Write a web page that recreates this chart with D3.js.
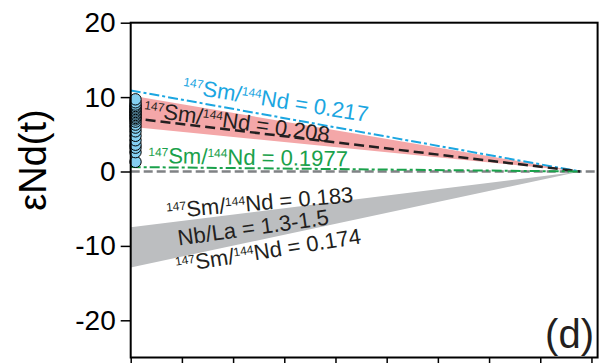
<!DOCTYPE html>
<html>
<head>
<meta charset="utf-8">
<script src="https://cdn.jsdelivr.net/npm/d3@7"></script>
<style>
  body { margin: 0; background: #fff; }
  svg { display: block; font-family: "Liberation Sans", Arial, sans-serif; }
</style>
</head>
<body>
<svg id="chart" width="603" height="363"></svg>
<script>
// x = age (Ga), y = epsilon Nd(t)
const xTicks = [0, 0.5, 1, 1.5, 2, 2.5, 3, 3.5, 4, 4.5]
const yTicks = [-20, -10, 0, 10, 20]
const convergeAge = 4.39

// model evolution lines: start value at t = 0, all meet eps = 0 at convergeAge
const lineRatios = ['0.217', '0.208', '0.1977']
const lineStartEps = [10.9, 7.2, 0.6]
const lineColors = ['#1ba6e1', '#231f20', '#1aa14b']
const lineDash = ['10,3,3,3', '10,5', '10,3,3,3']

// shaded ranges at t = 0 (top, bottom)
const redBandEps = [10.2, 6.0]
const grayBandEps = [-7.5, -12.9]

// samples
const sampleAge = 0.047
const sampleEps = [9.7, 9.3, 9.0, 8.8, 8.6, 8.4, 8.2, 8.0, 7.8, 7.6, 7.4, 7.2, 7.0, 6.7, 6.3, 5.9, 5.4, 4.8, 4.2, 3.6, 3.2, 2.6, 1.3]

// annotation labels: [age, eps, angle, sup1, main1, sup2, main2, color]
const labels = [
  [0.50, 10.6, 9, '147', 'Sm/', '144', 'Nd = 0.217', '#1ba6e1'],
  [0.12, 7.46, 8, '147', 'Sm/', '144', 'Nd = 0.208', '#231f20'],
  [0.17, 1.14, 1, '147', 'Sm/', '144', 'Nd = 0.1977', '#1aa14b'],
  [0.355, -6.3, -5, '147', 'Sm/', '144', 'Nd = 0.183', '#231f20'],
  [0.45, -13.6, -9, '147', 'Sm/', '144', 'Nd = 0.174', '#231f20']
]
const nbLabel = [0.47, -9.96, -8, 'Nb/La = 1.3-1.5']

let svg = d3.select('#chart')
let x = d3.scaleLinear().domain([0, 4.56]).range([130.7, 597.6])
let y = d3.scaleLinear().domain([-25, 20]).range([357.5, 22.7])

let line = d3.line().x(d => x(d[0])).y(d => y(d[1]))
let area = d3.area().x(d => x(d[0])).y0(d => y(d[1])).y1(d => y(d[2]))

// bands
svg.append('path')
  .attr('d', area([[0, redBandEps[0], redBandEps[1]], [convergeAge, 0, 0]]))
  .attr('fill', '#f4a7a8')
svg.append('path')
  .attr('d', area([[0, grayBandEps[0], grayBandEps[1]], [convergeAge, 0, 0]]))
  .attr('fill', '#bcbec0')

// zero line
svg.append('path')
  .attr('d', line([[0, 0], [4.56, 0]]))
  .attr('stroke', '#808285').attr('stroke-width', 2.5)
  .attr('stroke-dasharray', '9,4').attr('fill', 'none')

// model lines
lineStartEps.forEach((e, i) => {
  svg.append('path')
    .attr('d', line([[0, e], [convergeAge, 0]]))
    .attr('stroke', lineColors[i])
    .attr('stroke-width', i == 1 ? 2.5 : 2)
    .attr('stroke-dasharray', lineDash[i])
    .attr('fill', 'none')
})

// labels
labels.forEach(l => {
  let t = svg.append('text')
    .attr('transform', `translate(${x(l[0])},${y(l[1])}) rotate(${l[2]})`)
    .attr('fill', l[7])
    .style('font-size', '22px')
  t.append('tspan').text(l[3]).style('font-size', '12px').attr('dy', -7)
  t.append('tspan').text(l[4]).attr('dy', 7)
  t.append('tspan').text(l[5]).style('font-size', '12px').attr('dy', -7)
  t.append('tspan').text(l[6]).attr('dy', 7)
})
svg.append('text')
  .attr('transform', `translate(${x(nbLabel[0])},${y(nbLabel[1])}) rotate(${nbLabel[2]})`)
  .attr('fill', '#231f20')
  .style('font-size', '22px')
  .text(nbLabel[3])

// samples (drawn from lowest up)
svg.append('g').selectAll('circle')
  .data(sampleEps.slice().sort((a, b) => a - b))
  .enter().append('circle')
  .attr('cx', x(sampleAge))
  .attr('cy', d => y(d))
  .attr('r', 5.7)
  .attr('fill', '#84cff0')
  .attr('stroke', '#000')
  .attr('stroke-width', 1)

// axes
let yAxis = d3.axisLeft(y).tickValues(yTicks).tickSize(10).tickPadding(5).tickFormat(d => String(d))
let gy = svg.append('g').attr('transform', `translate(${x(0)},0)`).call(yAxis)
gy.selectAll('text').style('font-size', '28px').attr('fill', '#000').style('font-family', '"Liberation Sans", Arial, sans-serif')

let xAxis = d3.axisBottom(x).tickValues(xTicks).tickSize(7).tickFormat('')
let gx = svg.append('g').attr('transform', `translate(0,${y(-25)})`).call(xAxis)

;[gx, gy].forEach(g => {
  g.select('.domain').remove()
  g.selectAll('line').attr('stroke', '#000').attr('stroke-width', 1.5)
})

// frame
svg.append('rect')
  .attr('x', x(0)).attr('y', y(20))
  .attr('width', x(4.56) - x(0)).attr('height', y(-25) - y(20))
  .attr('fill', 'none').attr('stroke', '#000').attr('stroke-width', 2)

// y label
svg.append('text')
  .attr('transform', `translate(46,160) rotate(-90)`)
  .attr('text-anchor', 'middle')
  .style('font-size', '38px')
  .text('εNd(t)')

// panel tag
svg.append('text')
  .attr('x', 594).attr('y', 348)
  .attr('text-anchor', 'end')
  .style('font-size', '40px')
  .attr('fill', '#231f20')
  .text('(d)')
</script>
</body>
</html>
